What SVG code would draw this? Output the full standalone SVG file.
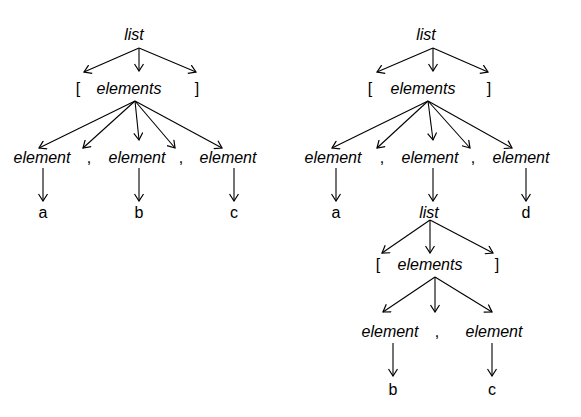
<svg xmlns="http://www.w3.org/2000/svg" width="581" height="417" viewBox="0 0 581 417">
<style>
text{font-family:"Liberation Sans",Arial,sans-serif;font-size:16px;fill:#000;text-anchor:middle}
.i{font-style:italic}
.c line{stroke:#000;stroke-width:1.1;marker-end:url(#ah)}
</style>
<defs>
<marker id="ah" markerUnits="userSpaceOnUse" viewBox="-8 -5 9 10" refX="0" refY="0" markerWidth="9" markerHeight="10" orient="auto">
<path d="M-7,-4.5 L0,0 L-7,4.5" fill="none" stroke="#000" stroke-width="1.2"/>
</marker>
</defs>
<rect width="581" height="417" fill="#fff"/>
<g id="left-tree">
<g id="L-list"><text class="i" x="134" y="40">list</text></g>
<g id="L-lb"><text x="78" y="94">[</text></g>
<g id="L-elements"><text class="i" x="129" y="94">elements</text></g>
<g id="L-rb"><text x="197" y="94">]</text></g>
<g id="L-el1"><text class="i" x="42" y="163">element</text></g>
<g id="L-c1"><text x="89" y="163">,</text></g>
<g id="L-el2"><text class="i" x="137" y="163">element</text></g>
<g id="L-c2"><text x="181" y="163">,</text></g>
<g id="L-el3"><text class="i" x="228" y="163">element</text></g>
<g id="L-a"><text x="43" y="218">a</text></g>
<g id="L-b"><text x="139" y="218">b</text></g>
<g id="L-c"><text x="234" y="218">c</text></g>
</g>
<g id="right-tree">
<g id="R-list"><text class="i" x="426" y="40">list</text></g>
<g id="R-lb"><text x="370" y="94">[</text></g>
<g id="R-elements"><text class="i" x="423" y="94">elements</text></g>
<g id="R-rb"><text x="489" y="94">]</text></g>
<g id="R-el1"><text class="i" x="333" y="163">element</text></g>
<g id="R-c1"><text x="382" y="163">,</text></g>
<g id="R-el2"><text class="i" x="430" y="163">element</text></g>
<g id="R-c2"><text x="473" y="163">,</text></g>
<g id="R-el3"><text class="i" x="521" y="163">element</text></g>
<g id="R-a"><text x="336" y="218">a</text></g>
<g id="R-list2"><text class="i" x="429" y="218">list</text></g>
<g id="R-d"><text x="526" y="218">d</text></g>
<g id="R-lb2"><text x="378" y="270">[</text></g>
<g id="R-elements2"><text class="i" x="430" y="270">elements</text></g>
<g id="R-rb2"><text x="497" y="270">]</text></g>
<g id="R-el4"><text class="i" x="390" y="337">element</text></g>
<g id="R-c3"><text x="437" y="337">,</text></g>
<g id="R-el5"><text class="i" x="494" y="337">element</text></g>
<g id="R-b"><text x="393" y="395">b</text></g>
<g id="R-c"><text x="492" y="395">c</text></g>
</g>
<g id="connectors" class="c">
<line x1="139" y1="48" x2="84" y2="72"/>
<line x1="139" y1="48" x2="139" y2="71"/>
<line x1="139" y1="48" x2="196" y2="72"/>
<line x1="135" y1="101" x2="39" y2="148"/>
<line x1="135" y1="101" x2="83" y2="148"/>
<line x1="135" y1="101" x2="139" y2="140"/>
<line x1="135" y1="101" x2="175" y2="148"/>
<line x1="135" y1="101" x2="222" y2="148"/>
<line x1="43" y1="168" x2="43" y2="201"/>
<line x1="139" y1="168" x2="139" y2="201"/>
<line x1="234" y1="168" x2="234" y2="201"/>
<line x1="433" y1="48" x2="377" y2="72"/>
<line x1="433" y1="48" x2="433" y2="71"/>
<line x1="433" y1="48" x2="488" y2="72"/>
<line x1="428" y1="101" x2="332" y2="148"/>
<line x1="428" y1="101" x2="377" y2="148"/>
<line x1="428" y1="101" x2="433" y2="140"/>
<line x1="428" y1="101" x2="470" y2="148"/>
<line x1="428" y1="101" x2="512" y2="148"/>
<line x1="336" y1="168" x2="336" y2="201"/>
<line x1="433" y1="168" x2="433" y2="201"/>
<line x1="526" y1="168" x2="526" y2="201"/>
<line x1="430" y1="220" x2="382" y2="253"/>
<line x1="430" y1="220" x2="430" y2="253"/>
<line x1="430" y1="220" x2="493" y2="253"/>
<line x1="435" y1="277" x2="383" y2="312"/>
<line x1="435" y1="277" x2="435" y2="312"/>
<line x1="435" y1="277" x2="492" y2="312"/>
<line x1="393" y1="343" x2="393" y2="376"/>
<line x1="492" y1="343" x2="492" y2="376"/>
</g>
</svg>
